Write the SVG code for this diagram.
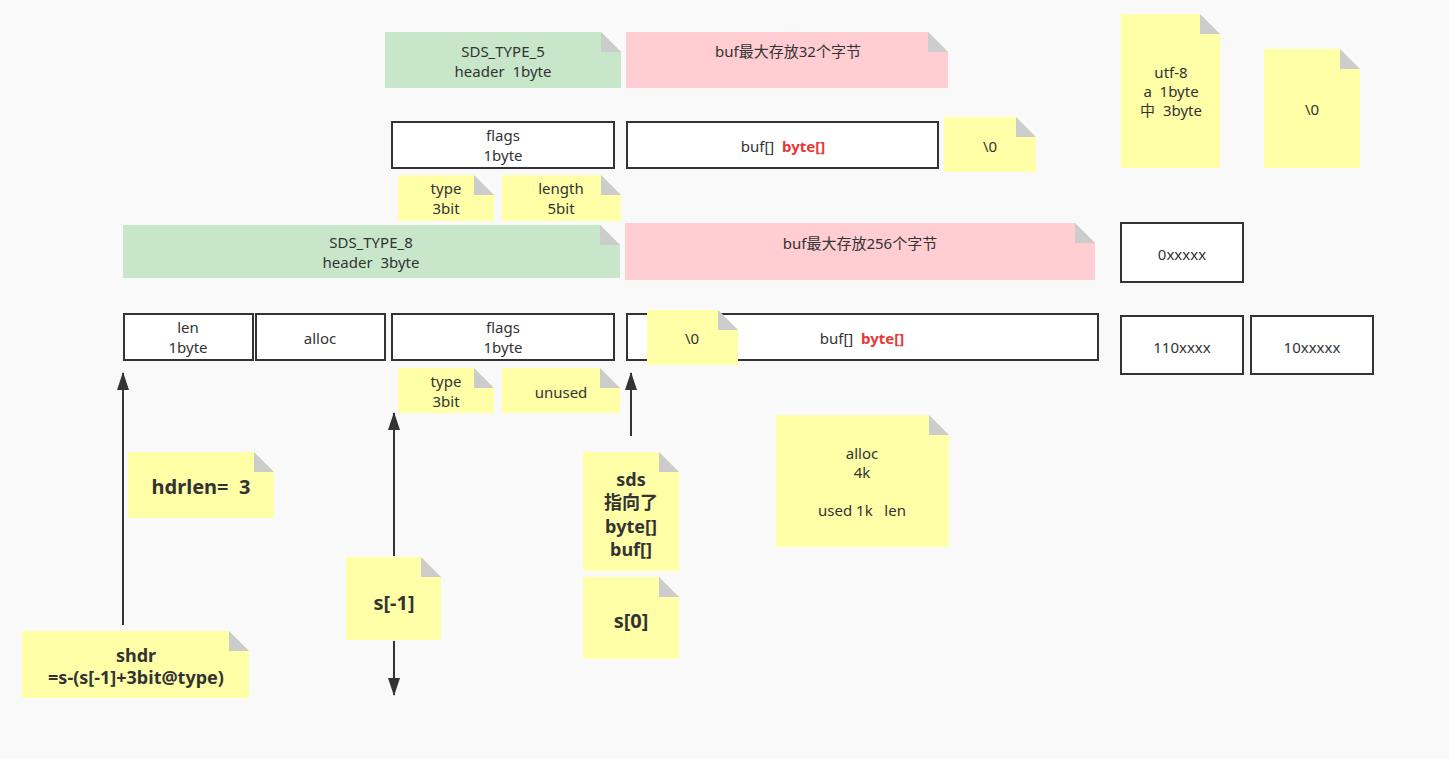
<svg xmlns="http://www.w3.org/2000/svg" width="1449" height="759" viewBox="0 0 1449 759">
<defs>
<style>
text{font-family:"Noto Sans","Open Sans","Noto Sans CJK SC",sans-serif;font-size:15px;fill:#333;text-anchor:middle;white-space:pre}
.big{font-size:20px;font-weight:bold}
.mid{font-size:18px;font-weight:bold}
.red{fill:#e53935;font-weight:bold}
.y{fill:#ffffa8}
.g{fill:#c8e6c9}
.p{fill:#ffcdd2}
.fold{fill:#cccccc}
.box{fill:#ffffff;stroke:#333;stroke-width:2}
.ln{stroke:#333;stroke-width:2;fill:none}
</style>
<marker id="ah" markerWidth="18" markerHeight="12" refX="17" refY="6" orient="auto" markerUnits="userSpaceOnUse" viewBox="0 0 18 12">
<path d="M0 0 L18 6 L0 12 Z" fill="#333"/>
</marker>
</defs>
<rect width="1449" height="759" fill="#f9f9f9"/>

<g id="connectors">
<line class="ln" x1="123" y1="625" x2="123" y2="373" marker-end="url(#ah)"/>
<line class="ln" x1="394" y1="556" x2="394" y2="413" marker-end="url(#ah)"/>
<line class="ln" x1="394" y1="641" x2="394" y2="695" marker-end="url(#ah)"/>
<line class="ln" x1="631" y1="436" x2="631" y2="373" marker-end="url(#ah)"/>
</g>

<g id="sds5-header">
<path class="g" d="M385 32H601L621 52V88H385Z"/><path class="fold" d="M601 32V52H621Z"/>
<text x="503" y="57">SDS_TYPE_5</text><text x="503" y="77">header  1byte</text>
</g>
<g id="sds5-buf-note">
<path class="p" d="M626 32H928L948 52V88H626Z"/><path class="fold" d="M928 32V52H948Z"/>
<text x="788" y="57">buf最大存放32个字节</text>
</g>
<g id="sds5-flags">
<rect class="box" x="392" y="122" width="222" height="46"/>
<text x="503" y="141">flags</text><text x="503" y="161">1byte</text>
</g>
<g id="sds5-buf">
<rect class="box" x="627" y="122" width="311" height="46"/>
<text x="783" y="152">buf[]  <tspan class="red">byte[]</tspan></text>
</g>
<g id="sds5-nul">
<path class="y" d="M944 117H1016L1036 137V172H944Z"/><path class="fold" d="M1016 117V137H1036Z"/>
<text x="990" y="152">\0</text>
</g>
<g id="sds5-type">
<path class="y" d="M398 175H474L494 195V221H398Z"/><path class="fold" d="M474 175V195H494Z"/>
<text x="446" y="194">type</text><text x="446" y="214">3bit</text>
</g>
<g id="sds5-length">
<path class="y" d="M502 175H601L621 195V221H502Z"/><path class="fold" d="M601 175V195H621Z"/>
<text x="561" y="194">length</text><text x="561" y="214">5bit</text>
</g>

<g id="sds8-header">
<path class="g" d="M123 225H600L620 245V278H123Z"/><path class="fold" d="M600 225V245H620Z"/>
<text x="371" y="248">SDS_TYPE_8</text><text x="371" y="268">header  3byte</text>
</g>
<g id="sds8-buf-note">
<path class="p" d="M625 223H1075L1095 243V280H625Z"/><path class="fold" d="M1075 223V243H1095Z"/>
<text x="860" y="249">buf最大存放256个字节</text>
</g>
<g id="sds8-len">
<rect class="box" x="124" y="314" width="129" height="46"/>
<text x="188" y="333">len</text><text x="188" y="353">1byte</text>
</g>
<g id="sds8-alloc">
<rect class="box" x="256" y="314" width="129" height="46"/>
<text x="320" y="344">alloc</text>
</g>
<g id="sds8-flags">
<rect class="box" x="392" y="314" width="222" height="46"/>
<text x="503" y="333">flags</text><text x="503" y="353">1byte</text>
</g>
<g id="sds8-buf">
<rect class="box" x="627" y="314" width="471" height="46"/>
<text x="862" y="344">buf[]  <tspan class="red">byte[]</tspan></text>
</g>
<g id="sds8-nul">
<path class="y" d="M647 310H718L738 330V365H647Z"/><path class="fold" d="M718 310V330H738Z"/>
<text x="692" y="344">\0</text>
</g>
<g id="sds8-type">
<path class="y" d="M398 368H474L494 388V413H398Z"/><path class="fold" d="M474 368V388H494Z"/>
<text x="446" y="387">type</text><text x="446" y="407">3bit</text>
</g>
<g id="sds8-unused">
<path class="y" d="M502 368H600L620 388V413H502Z"/><path class="fold" d="M600 368V388H620Z"/>
<text x="561" y="398">unused</text>
</g>

<g id="utf8-note">
<path class="y" d="M1121 14H1200L1220 34V168H1121Z"/><path class="fold" d="M1200 14V34H1220Z"/>
<text x="1171" y="78">utf-8</text><text x="1171" y="97">a  1byte</text><text x="1171" y="116">中  3byte</text>
</g>
<g id="nul-note">
<path class="y" d="M1264 49H1340L1360 69V168H1264Z"/><path class="fold" d="M1340 49V69H1360Z"/>
<text x="1312" y="115">\0</text>
</g>
<g id="b0">
<rect class="box" x="1121" y="223" width="122" height="59"/>
<text x="1182" y="260">0xxxxx</text>
</g>
<g id="b110">
<rect class="box" x="1121" y="316" width="122" height="58"/>
<text x="1182" y="353">110xxxx</text>
</g>
<g id="b10">
<rect class="box" x="1251" y="316" width="122" height="58"/>
<text x="1312" y="353">10xxxxx</text>
</g>

<g id="hdrlen">
<path class="y" d="M128 452H254L274 472V518H128Z"/><path class="fold" d="M254 452V472H274Z"/>
<text class="big" x="201" y="494">hdrlen=  3</text>
</g>
<g id="shdr">
<path class="y" d="M22 631H229L249 651V698H22Z"/><path class="fold" d="M229 631V651H249Z"/>
<text class="mid" x="136" y="662">shdr</text><text class="mid" x="136" y="684">=s-(s[-1]+3bit@type)</text>
</g>
<g id="sminus1">
<path class="y" d="M346 557H421L441 577V640H346Z"/><path class="fold" d="M421 557V577H441Z"/>
<text class="big" x="394" y="610">s[-1]</text>
</g>
<g id="sds-note">
<path class="y" d="M583 452H659L679 472V571H583Z"/><path class="fold" d="M659 452V472H679Z"/>
<text class="mid" x="631" y="486">sds</text><text class="mid" x="631" y="509">指向了</text><text class="mid" x="631" y="533">byte[]</text><text class="mid" x="631" y="556">buf[]</text>
</g>
<g id="s0">
<path class="y" d="M583 577H659L679 597V659H583Z"/><path class="fold" d="M659 577V597H679Z"/>
<text class="big" x="631" y="628">s[0]</text>
</g>
<g id="alloc-note">
<path class="y" d="M776 415H929L949 435V547H776Z"/><path class="fold" d="M929 415V435H949Z"/>
<text x="862" y="459">alloc</text><text x="862" y="478">4k</text><text x="862" y="516">used 1k   len</text>
</g>
</svg>
